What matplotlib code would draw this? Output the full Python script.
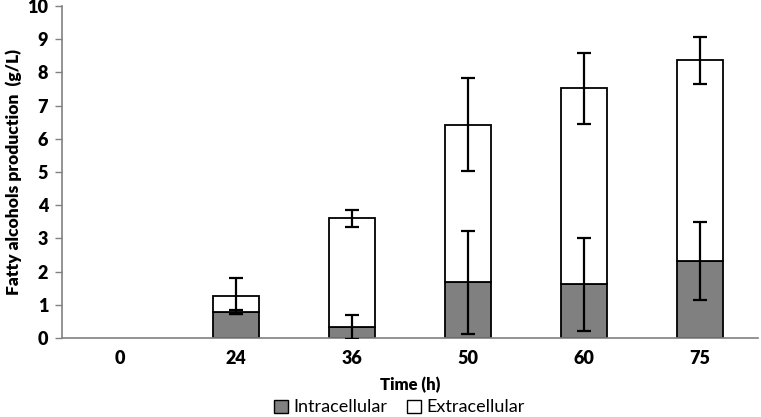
import numpy as np
import matplotlib.pyplot as plt
from matplotlib.patches import Patch

plt.rcParams['font.family'] = ['Lato', 'DejaVu Sans']

times = ['0', '24', '36', '50', '60', '75']
intra = [0, 0.78, 0.33, 1.68, 1.62, 2.31]
total = [0, 1.27, 3.60, 6.42, 7.52, 8.36]
intra_err = [0, 0.07, 0.36, 1.55, 1.40, 1.17]
total_err = [0, 0.54, 0.25, 1.40, 1.06, 0.70]
extra = [t - i for t, i in zip(total, intra)]

fig = plt.figure(figsize=(7.61, 4.17), dpi=100)
ax = fig.add_axes([62 / 761, 79 / 417, 696 / 761, 332 / 417])

x = np.arange(len(times))
w = 0.4
edges = ['black' if t > 0 else 'none' for t in total]
ax.bar(x, intra, w, color='#808080', edgecolor=edges, linewidth=1.3, zorder=2)
ax.bar(x, extra, w, bottom=intra, color='white', edgecolor=edges, linewidth=1.3, zorder=2)

# error bars only where there is a measurement
m = np.array(total) > 0
ekw = dict(fmt='none', ecolor='black', elinewidth=1.6, capthick=1.6, capsize=5, zorder=3)
ax.errorbar(x[m], np.array(intra)[m], yerr=np.array(intra_err)[m], **ekw)
ax.errorbar(x[m], np.array(total)[m], yerr=np.array(total_err)[m], **ekw)

ax.set_xlim(-0.5, len(times) - 0.5)
ax.set_ylim(0, 10)
ax.set_yticks(range(0, 11))
ax.set_xticks(x)
ax.set_xticklabels(times)
ax.tick_params(axis='x', length=0, pad=9)
ax.tick_params(axis='y', length=5, color='#808080', width=1, pad=5)
for lab in ax.get_xticklabels() + ax.get_yticklabels():
    lab.set_fontweight('heavy')
    lab.set_fontsize(13)
for s in ['top', 'right']:
    ax.spines[s].set_visible(False)
for s in ['left', 'bottom']:
    ax.spines[s].set_color('#808080')
    ax.spines[s].set_linewidth(1.2)

ax.set_xlabel('Time (h)', fontweight='heavy', fontsize=12, labelpad=7)
ax.set_ylabel('Fatty alcohols production  (g/L)', fontweight='heavy', fontsize=12.5)
ax.yaxis.set_label_coords(-40 / 696, 0.5)

handles = [Patch(facecolor='#808080', edgecolor='black', label='Intracellular'),
           Patch(facecolor='white', edgecolor='black', label='Extracellular')]
fig.legend(handles=handles, loc='center', bbox_to_anchor=(0.525, 9.5 / 417), ncol=2,
           frameon=False, fontsize=13, handlelength=0.75, handleheight=0.75,
           handletextpad=0.3, columnspacing=1.1, borderpad=0)

fig.savefig('out.png', dpi=100)
